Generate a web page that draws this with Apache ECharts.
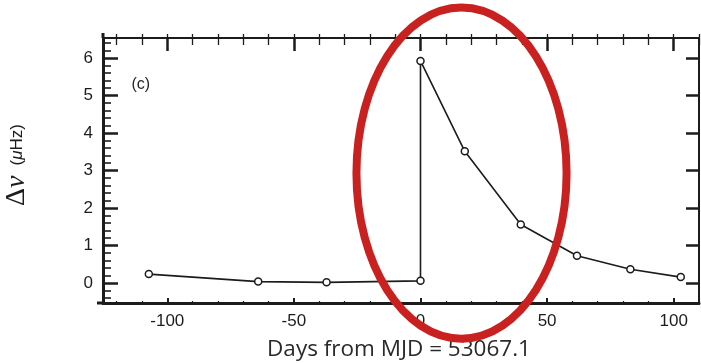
<!DOCTYPE html>
<html>
<head>
<meta charset="utf-8">
<script src="https://cdn.jsdelivr.net/npm/echarts@6/dist/echarts.min.js"></script>
<style>
  html, body { margin: 0; padding: 0; background: #fff; }
  #chart { width: 701px; height: 363px; }
</style>
</head>
<body>
<div id="chart"></div>
<script>
// Frequency change after the glitch, days relative to MJD 53067.1
const days    = [-107.3, -64.1, -37.1, 0, 0, 17.5, 39.6, 61.8, 82.9, 102.8];
const deltaNu = [0.24, 0.04, 0.02, 0.06, 5.92, 3.51, 1.56, 0.73, 0.37, 0.16];

// Tick labels
const xTickLabels = [-100, -50, 0, 50, 100];
const yTickLabels = [0, 1, 2, 3, 4, 5, 6];

const X_MIN = -125.4, X_MAX = 110;
const Y_MIN = -0.53, Y_MAX = 6.53;

// minor tick positions (every 10 days, every 0.2 µHz)
const xMinor = [];
for (let d = -120; d <= 110; d += 10) if (d % 50 !== 0) xMinor.push(d);
const xAllTen = [];
for (let d = -120; d <= 110; d += 10) xAllTen.push(d);
const yMinor = [];
for (let k = -2; k <= 32; k++) if (k % 5 !== 0) yMinor.push(Math.round(k * 2) / 10);

const INK = '#1c1c1c';
const SANS = '"Liberation Sans", Arial, Helvetica, sans-serif';

const pts = days.map((d, i) => [d, deltaNu[i]]);

const chart = echarts.init(document.getElementById('chart'), null, { renderer: 'canvas' });

function hiddenAxisParts() {
  return { axisLabel: { show: false }, splitLine: { show: false } };
}

const option = {
  backgroundColor: '#ffffff',
  animation: false,
  grid: { left: 103, right: 2, top: 38, bottom: 60, outerBoundsMode: 'none' },
  xAxis: [
    {
      type: 'value', position: 'bottom', min: X_MIN, max: X_MAX,
      axisLine: { show: true, onZero: false, lineStyle: { color: INK, width: 3 } },
      axisTick: { show: true, inside: true, length: 5, customValues: xTickLabels, lineStyle: { color: INK, width: 2 } },
      axisLabel: { customValues: xTickLabels, fontSize: 17, margin: 10, color: INK, fontFamily: SANS },
      splitLine: { show: false },
      name: 'Days from MJD = 53067.1',
      nameLocation: 'middle', nameGap: 35,
      nameTextStyle: { fontSize: 22.5, color: '#2a2a2a', fontFamily: '"Open Sans", Lato, sans-serif', padding: [0, 4, 0, 0] }
    },
    Object.assign({
      type: 'value', position: 'bottom', min: X_MIN, max: X_MAX,
      axisLine: { show: false, onZero: false },
      axisTick: { show: true, inside: true, length: 2, customValues: xMinor, lineStyle: { color: INK, width: 1.2 } }
    }, hiddenAxisParts()),
    Object.assign({
      type: 'value', position: 'top', min: X_MIN, max: X_MAX,
      axisLine: { show: true, onZero: false, lineStyle: { color: INK, width: 2 } },
      axisTick: { show: true, inside: true, length: 13, customValues: xTickLabels, lineStyle: { color: INK, width: 2.5 } }
    }, hiddenAxisParts()),
    Object.assign({
      type: 'value', position: 'top', min: X_MIN, max: X_MAX,
      axisLine: { show: false, onZero: false },
      axisTick: { show: true, inside: true, length: 7, customValues: xMinor, lineStyle: { color: INK, width: 1.3 } }
    }, hiddenAxisParts()),
    Object.assign({
      type: 'value', position: 'top', min: X_MIN, max: X_MAX,
      axisLine: { show: false, onZero: false },
      axisTick: { show: true, inside: false, length: 4, customValues: xAllTen, lineStyle: { color: INK, width: 1.3 } }
    }, hiddenAxisParts())
  ],
  yAxis: [
    {
      type: 'value', position: 'left', min: Y_MIN, max: Y_MAX,
      axisLine: { show: true, onZero: false, lineStyle: { color: INK, width: 3 } },
      axisTick: { show: true, inside: true, length: 15, customValues: yTickLabels, lineStyle: { color: INK, width: 2.5 } },
      axisLabel: { customValues: yTickLabels, fontSize: 17, margin: 10, color: INK, fontFamily: SANS },
      splitLine: { show: false },
      name: '{d|\u0394}{v|\u03bd}   {p|(}{m|\u03bc}{p|Hz)}',
      nameLocation: 'middle', nameRotate: 90, nameGap: 72,
      nameTextStyle: {
        color: INK, padding: [0, 0, 0, 11],
        rich: {
          d: { fontFamily: '"Liberation Serif", "DejaVu Serif", serif', fontSize: 28, color: INK },
          v: { fontFamily: '"Liberation Serif", "DejaVu Serif", serif', fontSize: 28, fontStyle: 'italic', color: INK },
          p: { fontFamily: SANS, fontSize: 17, color: INK },
          m: { fontFamily: SANS, fontSize: 17, fontStyle: 'italic', color: INK }
        }
      }
    },
    Object.assign({
      type: 'value', position: 'left', min: Y_MIN, max: Y_MAX,
      axisLine: { show: false, onZero: false },
      axisTick: { show: true, inside: true, length: 8, customValues: yMinor, lineStyle: { color: INK, width: 1.6 } }
    }, hiddenAxisParts()),
    Object.assign({
      type: 'value', position: 'right', min: Y_MIN, max: Y_MAX,
      axisLine: { show: true, onZero: false, lineStyle: { color: INK, width: 2 } },
      axisTick: { show: true, inside: true, length: 13, customValues: yTickLabels, lineStyle: { color: INK, width: 2.5 } }
    }, hiddenAxisParts())
  ],
  series: [{
    type: 'line',
    xAxisIndex: 0, yAxisIndex: 0,
    data: pts,
    symbol: 'circle', symbolSize: 7,
    lineStyle: { color: INK, width: 1.6 },
    itemStyle: { color: '#ffffff', borderColor: INK, borderWidth: 1.5 },
    z: 3
  }]
};

chart.setOption(option);

// panel tag, frame overhangs and the red highlight ellipse, placed in data units
const toPx = (x, y) => chart.convertToPixel({ xAxisIndex: 0, yAxisIndex: 0 }, [x, y]);
const corner = toPx(X_MIN, Y_MIN);
const topLeft = toPx(X_MIN, Y_MAX);
const tag = toPx(-110.5, 5.28);
const ringC = toPx(16.2, 2.93);
const ringE = toPx(16.2 + 41.5, 2.93 - 4.41);

chart.setOption({
  graphic: [
    { type: 'line', z: 10, shape: { x1: corner[0] - 6, y1: corner[1], x2: corner[0], y2: corner[1] }, style: { stroke: INK, lineWidth: 3 } },
    { type: 'line', z: 10, shape: { x1: topLeft[0], y1: topLeft[1] - 5, x2: topLeft[0], y2: topLeft[1] }, style: { stroke: INK, lineWidth: 3 } },
    { type: 'text', z: 10, x: tag[0], y: tag[1], style: { text: '(c)', fill: '#262626', font: '16px "Liberation Sans", Arial, sans-serif', align: 'center', verticalAlign: 'middle' } },
    {
      type: 'ellipse', z: 100,
      shape: { cx: ringC[0], cy: ringC[1], rx: ringE[0] - ringC[0], ry: ringE[1] - ringC[1] },
      style: { fill: 'none', stroke: '#c8211f', lineWidth: 8 }
    }
  ]
});
</script>
</body>
</html>
